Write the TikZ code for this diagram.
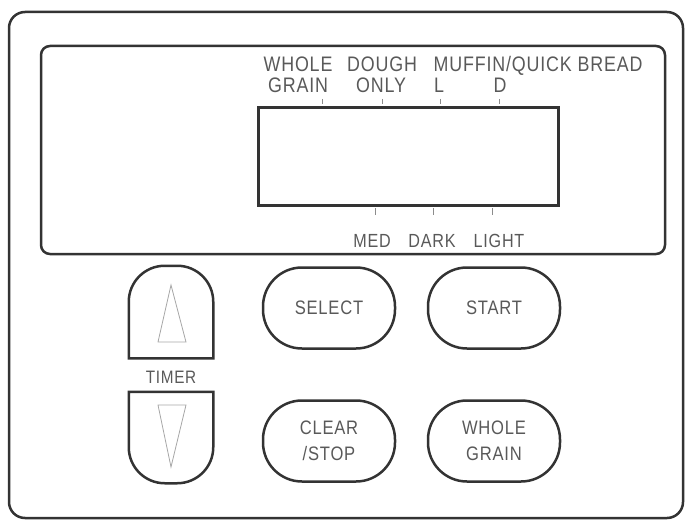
\documentclass[tikz,border=0pt]{standalone}
\usepackage{fontspec}
\setmainfont{Liberation Sans}[FakeStretch=0.85, LetterSpace=4]
\usetikzlibrary{positioning}

\begin{document}
\begin{tikzpicture}[x=1pt, y=-1pt,
                    draw=black!80,
                    line width=2.5pt]
    \tikzstyle{frame}=[draw=black!80, line width=2.5pt]
    \tikzstyle{lbl}=[text=black!65, inner sep=0pt, anchor=base, font=\fontsize{21}{23}\selectfont]
    \tikzstyle{small}=[lbl, font=\fontsize{19}{21}\selectfont]
    \tikzstyle{key}=[frame, rounded corners=39pt, minimum width=132pt, minimum height=81pt,
                     align=center, text=black!65, font=\fontsize{19.5}{26}\selectfont]
    \tikzstyle{pad}=[minimum width=82pt, minimum height=90pt, inner sep=0pt]
    \tikzstyle{arrowmark}=[draw=black!35, line width=0.8pt]
    \tikzstyle{tick}=[draw=black!45, line width=0.8pt]

    \useasboundingbox (0,0) rectangle (690,524);

    % housing and display window
    \draw[frame, rounded corners=16pt] (9,12) rectangle (683,518);
    \draw[frame, rounded corners=9pt] (41,46) rectangle (665,254);
    \node[draw, line width=3pt, minimum width=300pt, minimum height=97pt, inner sep=0pt] (lcd) at (408,156.5) {};

    % program names
    \node[lbl] (wholetop) at (298,72) {WHOLE};
    \node[lbl] (dough) at (382,72) {DOUGH};
    \node[lbl] (muffin) at (538,72) {MUFFIN/QUICK BREAD};
    \node[lbl] (grain) at (298,93) {GRAIN};
    \node[lbl] (only) at (381,93) {ONLY};
    \node[lbl] (lmark) at (439,93) {L};
    \node[lbl] (dmark) at (500,93) {D};
    \foreach \x in {322,382,440,499}
        \draw[tick] (\x,99) -- (\x,104);

    % crust settings
    \foreach \x in {375,433,492}
        \draw[tick] (\x,208) -- (\x,215);
    \node[small] (med) at (372,247) {MED};
    \node[small] (dark) at (432,247) {DARK};
    \node[small] (light) at (499,247) {LIGHT};

    % timer keys
    \node[pad] (up) at (171,312) {};
    \node[pad, minimum height=89pt] (down) at (171,437.5) {};
    \draw[frame] (up.south west) [rounded corners=36pt] -- (up.north west) -- (up.north east)
        [sharp corners] -- (up.south east) -- cycle;
    \draw[frame] (down.north west) [rounded corners=36pt] -- (down.south west) -- (down.south east)
        [sharp corners] -- (down.north east) -- cycle;
    \draw[arrowmark] (171,285) -- (186,342) -- (158,342) -- cycle;
    \draw[arrowmark] (158,405) -- (186,405) -- (171,467) -- cycle;
    \node[lbl, font=\fontsize{18}{20}\selectfont] (timer) at (171,383) {TIMER};

    % program keys
    \node[key] (select) at (329,308) {SELECT};
    \node[key] (start) at (494,308) {START};
    \node[key] (clear) at (329,441) {CLEAR\\/STOP};
    \node[key] (wholegrain) at (494,441) {WHOLE\\GRAIN};
\end{tikzpicture}
\end{document}
